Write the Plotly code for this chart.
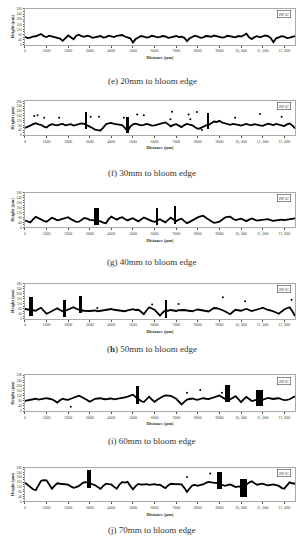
import plotly.graph_objects as go

# ---------------- data ----------------
distance = list(range(0, 12501, 125))

height_e = [62, 52, 55, 64, 66, 72, 84, 66, 60, 70, 64, 58, 55, 48, 30, 52, 72, 58, 42, 70,
            78, 66, 62, 70, 66, 54, 58, 64, 68, 56, 60, 70, 64, 60, 70, 72, 76, 64, 58, 50,
            18, 44, 56, 68, 64, 56, 60, 70, 66, 58, 62, 68, 65, 54, 58, 66, 68, 60, 62, 54,
            28, 50, 60, 70, 64, 54, 58, 68, 66, 62, 72, 64, 62, 56, 60, 70, 66, 60, 58, 68,
            64, 74, 86, 58, 44, 60, 66, 58, 62, 72, 68, 52, 20, 50, 58, 66, 64, 52, 56, 62, 68]
height_f = [60, 66, 78, 90, 98, 88, 85, 70, 62, 80, 90, 84, 80, 88, 92, 80, 84, 90, 78, 82,
            88, 96, 92, 78, 70, 58, 45, 40, 38, 62, 90, 96, 100, 92, 88, 80, 82, 60, 30, 70,
            88, 94, 90, 80, 84, 92, 86, 78, 80, 86, 92, 98, 105, 90, 72, 84, 90, 78, 66, 82,
            92, 86, 80, 64, 52, 58, 70, 80, 84, 98, 112, 108, 118, 104, 96, 90, 84, 92, 90, 84,
            78, 86, 92, 84, 82, 90, 88, 80, 76, 86, 94, 88, 82, 92, 86, 78, 74, 88, 96, 80, 55]
height_g = [55, 46, 40, 64, 84, 74, 62, 52, 46, 62, 78, 68, 56, 62, 70, 78, 82, 66, 52, 44,
            46, 62, 76, 70, 60, 58, 56, 52, 48, 38, 34, 66, 86, 74, 62, 74, 82, 68, 56, 66,
            74, 60, 48, 64, 80, 70, 58, 50, 44, 56, 66, 52, 40, 60, 78, 64, 50, 62, 70, 50,
            34, 44, 58, 70, 80, 88, 94, 78, 62, 48, 36, 40, 46, 62, 78, 84, 86, 70, 58, 64,
            70, 60, 50, 62, 72, 62, 54, 58, 62, 68, 66, 58, 52, 56, 60, 62, 58, 60, 64, 68, 72]
height_h = [78, 74, 70, 66, 64, 78, 88, 62, 40, 50, 62, 76, 84, 70, 60, 64, 72, 84, 92, 80,
            70, 66, 64, 60, 62, 64, 66, 60, 64, 66, 68, 74, 78, 72, 70, 66, 62, 60, 66, 72,
            76, 70, 72, 56, 36, 66, 92, 82, 72, 48, 24, 50, 66, 64, 70, 66, 62, 68, 72, 70,
            66, 62, 60, 68, 74, 70, 66, 62, 58, 72, 86, 84, 80, 70, 60, 46, 36, 56, 72, 68,
            64, 72, 78, 70, 62, 68, 72, 80, 88, 78, 70, 66, 60, 50, 40, 58, 74, 84, 92, 60, 22]
height_i = [80, 84, 88, 94, 96, 90, 94, 98, 100, 96, 92, 80, 66, 84, 96, 90, 88, 96, 104, 112,
            120, 110, 100, 86, 72, 86, 96, 98, 100, 94, 92, 96, 98, 92, 94, 98, 100, 106, 112, 118,
            128, 110, 90, 78, 70, 92, 112, 90, 72, 88, 102, 114, 122, 120, 118, 108, 96, 74, 52, 72,
            90, 94, 98, 92, 88, 96, 100, 96, 94, 100, 104, 114, 122, 108, 96, 94, 92, 104, 116, 94,
            70, 92, 110, 94, 78, 84, 90, 96, 88, 94, 102, 98, 94, 98, 100, 92, 86, 88, 92, 104, 116]
height_j = [155, 134, 118, 100, 92, 138, 170, 176, 174, 140, 104, 130, 150, 146, 142, 140, 138, 124, 112, 118,
            128, 146, 160, 158, 150, 140, 134, 118, 104, 128, 146, 142, 140, 120, 104, 140, 160, 156, 162, 128,
            100, 126, 144, 138, 140, 142, 136, 140, 142, 136, 138, 124, 110, 132, 146, 144, 142, 136, 140, 112,
            78, 108, 132, 136, 128, 136, 140, 154, 162, 158, 156, 152, 150, 138, 128, 134, 140, 130, 118, 124,
            120, 132, 140, 156, 166, 150, 138, 142, 146, 138, 132, 136, 140, 134, 128, 112, 104, 132, 158, 150, 146]

# dense measurement bands (start, end, low, high)
band_e_start, band_e_end, band_e_low, band_e_high = [], [], [], []
band_f_start = [2790, 4660, 8430]
band_f_end = [2830, 4810, 8470]
band_f_low = [49, 16, 49]
band_f_high = [190, 144, 179]
band_g_start = [3200, 6100, 6940]
band_g_end = [3430, 6140, 6980]
band_g_low = [22, 22, 27]
band_g_high = [163, 163, 177]
band_h_start = [200, 1740, 2500, 6470]
band_h_end = [350, 1890, 2660, 6580]
band_h_low = [26, 16, 48, 8]
band_h_high = [174, 153, 180, 153]
band_i_start = [5120, 9270, 10700]
band_i_end = [5270, 9500, 11000]
band_i_low = [52, 65, 34]
band_i_high = [191, 201, 165]
band_j_start = [2860, 8880, 9930]
band_j_end = [3070, 9110, 10270]
band_j_low = [111, 105, 36]
band_j_high = [266, 250, 189]

# isolated outlier points
dots_e_x, dots_e_y = [], []
dots_f_x = [430, 584, 891, 1583, 3043, 3428, 4580, 5195, 5502, 6732, 6809, 7577, 7654, 7962, 8115, 8192, 9729, 10882, 11881]
dots_f_y = [158, 163, 144, 144, 152, 152, 144, 171, 163, 130, 193, 171, 130, 190, 54, 41, 144, 174, 152]
dots_g_x, dots_g_y = [], []
dots_h_x = [5887, 7116, 9160, 10190, 12342, 3350]
dots_h_y = [114, 119, 172, 140, 153, 87]
dots_i_x = [2121, 7500, 8115, 9114]
dots_i_y = [34, 144, 165, 144]
dots_j_x = [7500, 8576]
dots_j_y = [202, 230]

captions = ["(e) 20mm to bloom edge", "(f) 30mm to bloom edge", "(g) 40mm to bloom edge",
            "(<b>h</b>) 50mm to bloom edge", "(i) 60mm to bloom edge", "(j) 70mm to bloom edge"]
x_ticks = list(range(0, 12001, 1000))
x_tick_labels = ["0", "1000", "2000", "3000", "4000", "5000", "6000", "7000", "8000", "9000",
                 "10, 000", "11, 000", "12, 000"]
temp_label = "20°C"

panels = [
    (height_e, band_e_start, band_e_end, band_e_low, band_e_high, dots_e_x, dots_e_y),
    (height_f, band_f_start, band_f_end, band_f_low, band_f_high, dots_f_x, dots_f_y),
    (height_g, band_g_start, band_g_end, band_g_low, band_g_high, dots_g_x, dots_g_y),
    (height_h, band_h_start, band_h_end, band_h_low, band_h_high, dots_h_x, dots_h_y),
    (height_i, band_i_start, band_i_end, band_i_low, band_i_high, dots_i_x, dots_i_y),
    (height_j, band_j_start, band_j_end, band_j_low, band_j_high, dots_j_x, dots_j_y),
]

# ---------------- layout geometry (pixels) ----------------
W, H = 303, 550
plot_px = [(7, 43), (100, 134), (192, 227), (284, 319), (376, 412), (469, 503)]
caption_px = [80, 172, 262, 350, 442, 532]
x_dom = [24 / W, 295 / W]

SERIF = "Liberation Serif"
fig = go.Figure()
layout = dict(width=W, height=H, margin=dict(l=0, r=0, t=0, b=0),
              paper_bgcolor="white", plot_bgcolor="white", showlegend=False,
              barmode="overlay", bargap=0, annotations=[])

for k, (h, bs, be, bl, bh, dx, dy) in enumerate(panels):
    n = "" if k == 0 else str(k + 1)
    xa, ya = "x" + n, "y" + n
    fig.add_trace(go.Scatter(x=distance, y=h, mode="lines",
                             line=dict(color="black", width=1.8),
                             xaxis=xa, yaxis=ya, hoverinfo="skip"))
    if bs:
        fig.add_trace(go.Bar(x=[(s + e) / 2 for s, e in zip(bs, be)],
                             width=[e - s for s, e in zip(bs, be)],
                             base=bl, y=[t - b for t, b in zip(bh, bl)],
                             marker=dict(color="black", line=dict(width=0)),
                             xaxis=xa, yaxis=ya, hoverinfo="skip"))
    if dx:
        fig.add_trace(go.Scatter(x=dx, y=dy, mode="markers",
                                 marker=dict(color="black", size=2),
                                 xaxis=xa, yaxis=ya, hoverinfo="skip"))
    top, bot = plot_px[k]
    layout["xaxis" + n] = dict(
        domain=x_dom, anchor=ya, range=[0, 12500],
        tickvals=x_ticks, ticktext=x_tick_labels,
        tickfont=dict(size=4, family=SERIF, color="#444"),
        ticks="outside", ticklen=2, tickwidth=0.6, tickcolor="#555",
        showline=True, linecolor="#aaa", linewidth=0.8, mirror=True,
        showgrid=False, zeroline=False,
        title=dict(text="<b>Distance (μm)</b>", font=dict(size=4.5, family=SERIF, color="#333"), standoff=2),
    )
    layout["yaxis" + n] = dict(
        domain=[1 - bot / H, 1 - top / H], anchor=xa, range=[0, 280], dtick=40,
        tickfont=dict(size=3.5, family=SERIF, color="#444"),
        ticks="outside", ticklen=1.5, tickwidth=0.6, tickcolor="#555",
        minor=dict(dtick=20, ticks="outside", ticklen=1, tickcolor="#555", tickwidth=0.5),
        showline=True, linecolor="#aaa", linewidth=0.8, mirror=True,
        showgrid=False, zeroline=False,
        title=dict(text="<b>Height (μm)</b>", font=dict(size=4.5, family=SERIF, color="#333"), standoff=1),
    )
    layout["annotations"].append(dict(
        text=temp_label, xref=xa + " domain", yref=ya + " domain", x=0.985, y=0.85,
        xanchor="right", yanchor="middle", showarrow=False,
        font=dict(size=5, family=SERIF, color="#222"),
        bordercolor="#444", borderwidth=0.6, borderpad=1, bgcolor="white"))
    layout["annotations"].append(dict(
        text=captions[k], xref="paper", yref="paper", x=0.5, y=1 - caption_px[k] / H,
        xanchor="center", yanchor="middle", showarrow=False,
        font=dict(size=9, family=SERIF, color="#333")))

fig.update_layout(**layout)
fig.write_html("out.html", config={"displayModeBar": False},
               post_script="document.body.style.margin='0';")
